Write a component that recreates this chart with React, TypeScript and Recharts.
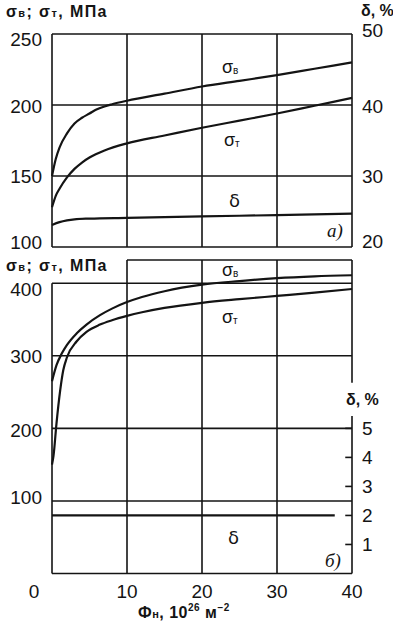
import React from "react";
import { LineChart, Line, XAxis, YAxis, ReferenceLine } from "recharts";

// Panel a): strength and elongation vs fluence
const TOP_SB = [
  { x: 0, v: 150 }, { x: 0.5, v: 162 }, { x: 1, v: 170 }, { x: 2, v: 180 },
  { x: 3, v: 187 }, { x: 4, v: 191 }, { x: 5, v: 194 }, { x: 6, v: 197 },
  { x: 7, v: 199 }, { x: 8, v: 200.5 }, { x: 10, v: 203 }, { x: 15, v: 208 },
  { x: 20, v: 213 }, { x: 25, v: 217 }, { x: 30, v: 221 }, { x: 35, v: 225.5 },
  { x: 40, v: 230 },
];
const TOP_ST = [
  { x: 0, v: 128 }, { x: 0.5, v: 136 }, { x: 1, v: 141 }, { x: 2, v: 149 },
  { x: 3, v: 155 }, { x: 4, v: 159.5 }, { x: 5, v: 163 }, { x: 7, v: 168 },
  { x: 10, v: 173 }, { x: 15, v: 178.5 }, { x: 20, v: 184 }, { x: 25, v: 189 },
  { x: 30, v: 194 }, { x: 35, v: 199.5 }, { x: 40, v: 205 },
];
const TOP_D = [
  { x: 0, d: 23.1 }, { x: 1, d: 23.5 }, { x: 2, d: 23.75 }, { x: 3, d: 23.9 },
  { x: 5, d: 24.0 }, { x: 10, d: 24.1 }, { x: 20, d: 24.3 }, { x: 30, d: 24.5 },
  { x: 40, d: 24.7 },
];

// Panel б)
const BOT_SB = [
  { x: 0, v: 265 }, { x: 0.6, v: 287 }, { x: 1.3, v: 303 }, { x: 2, v: 315 },
  { x: 3.3, v: 331 }, { x: 4.6, v: 343 }, { x: 6.4, v: 356 }, { x: 8, v: 365 },
  { x: 10, v: 374 }, { x: 12, v: 381 }, { x: 15, v: 389 }, { x: 20, v: 398 },
  { x: 25, v: 403 }, { x: 30, v: 407 }, { x: 35, v: 409.5 }, { x: 40, v: 411 },
];
const BOT_ST = [
  { x: 0, v: 150 }, { x: 0.2, v: 162 }, { x: 0.6, v: 207 }, { x: 1.1, v: 253 },
  { x: 1.5, v: 280 }, { x: 2, v: 298 }, { x: 3.3, v: 320 }, { x: 4.6, v: 333 },
  { x: 6.4, v: 343 }, { x: 8, v: 349 }, { x: 10, v: 355 }, { x: 12, v: 360 },
  { x: 15, v: 366 }, { x: 20, v: 373 }, { x: 25, v: 378 }, { x: 30, v: 382.5 },
  { x: 35, v: 387 }, { x: 40, v: 392 },
];
const BOT_D = [{ x: 0, d: 2 }, { x: 37.7, d: 2 }];

const X_TICKS = [0, 10, 20, 30, 40];
const X_GRID = [10, 20, 30];
const TOP_Y_TICKS = [100, 150, 200, 250];
const TOP_D_TICKS = [20, 30, 40, 50];
const BOT_Y_TICKS = [100, 200, 300, 400];
const BOT_D_TICKS = [1, 2, 3, 4, 5];

const INK = "#141414";
const FONT = "'Liberation Sans', Arial, sans-serif";
const gridProps = { stroke: INK, strokeWidth: 1.6, ifOverflow: "visible" as const };
const lineProps = {
  type: "monotone" as const,
  stroke: INK,
  strokeWidth: 2.2,
  dot: false,
  isAnimationActive: false,
};

// small vertical nudges of tick labels, as set in the original figure
const NUDGE_TOP_L: Record<number, number> = { 250: 5, 200: 1, 100: -5 };
const NUDGE_TOP_R: Record<number, number> = { 50: -4, 40: 1, 20: -6 };
const NUDGE_BOT_L: Record<number, number> = { 400: 6, 200: 2, 100: -4 };

function YTick(props: any) {
  const { x, y, payload, textAnchor, nudge } = props;
  const off = (nudge && nudge[payload.value]) || 0;
  return (
    <text x={x} y={y + off} dy="0.355em" textAnchor={textAnchor} fontSize={19} fill={INK} fontFamily={FONT}>
      {payload.value}
    </text>
  );
}

function XTick(props: any) {
  const { x, y, payload } = props;
  return (
    <text
      x={x + (payload.value === 0 ? -18 : 0)}
      y={y}
      dy="0.71em"
      textAnchor="middle"
      fontSize={19}
      fill={INK}
      fontFamily={FONT}
    >
      {payload.value}
    </text>
  );
}

const abs = (left: number, top: number, extra: React.CSSProperties = {}): React.CSSProperties => ({
  position: "absolute",
  left,
  top,
  fontFamily: FONT,
  color: INK,
  whiteSpace: "nowrap",
  lineHeight: 1,
  ...extra,
});

const subStyle: React.CSSProperties = { fontSize: 11 };
const supStyle: React.CSSProperties = { fontSize: 10, position: "relative", top: -7 };

function AxisTitle({ left, top }: { left: number; top: number }) {
  return (
    <div style={abs(left, top, { fontSize: 16, fontWeight: 700, letterSpacing: 1.4 })}>
      σ<span style={subStyle}>в</span>; σ<span style={subStyle}>т</span>, МПа
    </div>
  );
}

function Sig({ left, top, sub }: { left: number; top: number; sub: string }) {
  return (
    <div style={abs(left, top, { fontSize: 18 })}>
      σ<span style={{ fontSize: 10, position: "relative", top: 1 }}>{sub}</span>
    </div>
  );
}

export default function App() {
  return (
    <div style={{ position: "absolute", left: 0, top: 0, width: 393, height: 630, background: "#fff", overflow: "hidden" }}>
      {/* panel a) */}
      <div style={{ position: "absolute", left: 0, top: 0 }}>
        <LineChart width={393} height={262} margin={{ top: 34, right: 0, bottom: 15, left: 0 }}>
          <XAxis type="number" dataKey="x" domain={[0, 40]} ticks={X_TICKS} hide />
          <YAxis
            yAxisId="l"
            type="number"
            domain={[100, 250]}
            ticks={TOP_Y_TICKS}
            width={52}
            axisLine={false}
            tickLine={false}
            tickSize={0}
            tickMargin={10}
            tick={(p: any) => <YTick {...p} nudge={NUDGE_TOP_L} />}
          />
          <YAxis
            yAxisId="d"
            orientation="right"
            type="number"
            domain={[20, 50]}
            ticks={TOP_D_TICKS}
            width={41}
            axisLine={false}
            tickLine={false}
            tickSize={0}
            tickMargin={10}
            tick={(p: any) => <YTick {...p} nudge={NUDGE_TOP_R} />}
          />
          {TOP_Y_TICKS.map((v) => (
            <ReferenceLine key={"h" + v} yAxisId="l" y={v} {...gridProps} />
          ))}
          {X_TICKS.map((v) => (
            <ReferenceLine key={"v" + v} yAxisId="l" x={v} {...gridProps} />
          ))}
          <Line yAxisId="l" data={TOP_SB} dataKey="v" {...lineProps} />
          <Line yAxisId="l" data={TOP_ST} dataKey="v" {...lineProps} />
          <Line yAxisId="d" data={TOP_D} dataKey="d" {...lineProps} />
        </LineChart>
      </div>

      {/* panel б) */}
      <div style={{ position: "absolute", left: 0, top: 250 }}>
        <LineChart width={393} height={380} margin={{ top: 10, right: 0, bottom: 26.5, left: 0 }}>
          <XAxis
            type="number"
            dataKey="x"
            domain={[0, 40]}
            ticks={X_TICKS}
            height={30}
            axisLine={false}
            tickLine={false}
            tickSize={0}
            tickMargin={11}
            tick={<XTick />}
          />
          <YAxis
            yAxisId="l"
            type="number"
            domain={[0, 432]}
            ticks={BOT_Y_TICKS}
            width={52}
            axisLine={false}
            tickLine={false}
            tickSize={0}
            tickMargin={10}
            tick={(p: any) => <YTick {...p} nudge={NUDGE_BOT_L} />}
          />
          <YAxis
            yAxisId="d"
            orientation="right"
            type="number"
            domain={[0, 10.8]}
            ticks={BOT_D_TICKS}
            width={41}
            axisLine={false}
            tickLine={false}
            tickSize={0}
            tickMargin={10}
            tick={(p: any) => <YTick {...p} />}
          />
          {BOT_Y_TICKS.map((v) => (
            <ReferenceLine key={"h" + v} yAxisId="l" y={v} {...gridProps} />
          ))}
          <ReferenceLine yAxisId="l" y={0} {...gridProps} />
          {X_GRID.map((v) => (
            <ReferenceLine key={"v" + v} yAxisId="l" x={v} {...gridProps} />
          ))}
          <ReferenceLine yAxisId="l" segment={[{ x: 0, y: 0 }, { x: 0, y: 400 }]} {...gridProps} />
          <ReferenceLine yAxisId="l" segment={[{ x: 10, y: 432 }, { x: 40, y: 432 }]} {...gridProps} />
          <ReferenceLine yAxisId="l" segment={[{ x: 40, y: 0 }, { x: 40, y: 217 }]} {...gridProps} />
          <ReferenceLine yAxisId="l" segment={[{ x: 40, y: 263 }, { x: 40, y: 432 }]} {...gridProps} />
          {BOT_D_TICKS.map((v) => (
            <ReferenceLine key={"t" + v} yAxisId="d" segment={[{ x: 39.1, y: v }, { x: 40, y: v }]} {...gridProps} />
          ))}
          <Line yAxisId="l" data={BOT_SB} dataKey="v" {...lineProps} />
          <Line yAxisId="l" data={BOT_ST} dataKey="v" {...lineProps} />
          <Line yAxisId="d" data={BOT_D} dataKey="d" type="linear" stroke={INK} strokeWidth={2.2} dot={false} isAnimationActive={false} />
        </LineChart>
      </div>

      {/* titles and labels */}
      <AxisTitle left={6} top={4} />
      <div style={abs(361, 3, { fontSize: 16, fontWeight: 700 })}>δ, %</div>
      <AxisTitle left={6} top={258} />
      <div style={abs(346, 392, { fontSize: 16, fontWeight: 700 })}>δ, %</div>

      <Sig left={222} top={58} sub="в" />
      <Sig left={224} top={131} sub="т" />
      <div style={abs(229, 192, { fontSize: 18, fontFamily: "'DejaVu Sans', sans-serif" })}>δ</div>
      <div style={abs(327, 221, { fontSize: 19, fontStyle: "italic", fontFamily: "'Liberation Serif', serif" })}>а)</div>

      <Sig left={222} top={261} sub="в" />
      <Sig left={222} top={308} sub="т" />
      <div style={abs(228, 529, { fontSize: 18, fontFamily: "'DejaVu Sans', sans-serif" })}>δ</div>
      <div style={abs(325, 551, { fontSize: 19, fontStyle: "italic", fontFamily: "'Liberation Serif', serif" })}>б)</div>

      <div style={abs(138, 605, { fontSize: 16, fontWeight: 700, letterSpacing: 0.5 })}>
        Ф<span style={subStyle}>н</span>, 10<span style={supStyle}>26</span> м<span style={supStyle}>−2</span>
      </div>
    </div>
  );
}
